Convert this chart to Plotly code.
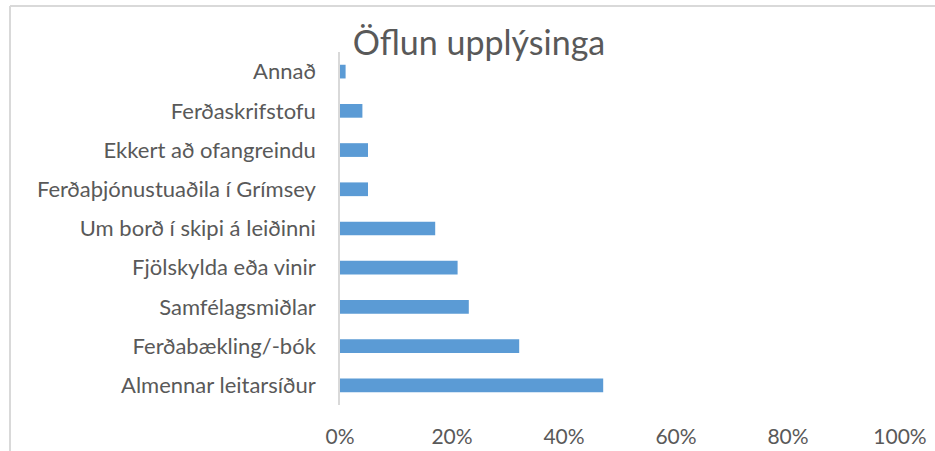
import plotly.graph_objects as go

categories = [
    "Almennar leitarsíður",
    "Ferðabækling/-bók",
    "Samfélagsmiðlar",
    "Fjölskylda eða vinir",
    "Um borð í skipi á leiðinni",
    "Ferðaþjónustuaðila í Grímsey",
    "Ekkert að ofangreindu",
    "Ferðaskrifstofu",
    "Annað",
]
values = [0.47, 0.32, 0.23, 0.21, 0.17, 0.05, 0.05, 0.04, 0.01]
x_ticks = [0, 0.2, 0.4, 0.6, 0.8, 1.0]
title_text = "Öflun upplýsinga"

W, H = 935, 451
ML, MR, MT, MB = 340, 35, 52, 46
PW = W - ML - MR
PH = H - MT - MB

def px_x(p):
    return (p - ML) / PW

def px_y(p):
    return (H - MB - p) / PH

fig = go.Figure(
    go.Bar(
        x=values,
        y=categories,
        orientation="h",
        width=0.35,
        marker=dict(color="#5B9BD5", line=dict(width=0)),
        hoverinfo="x+y",
    )
)

font_family = "Lato, 'Open Sans', sans-serif"

fig.update_layout(
    width=W,
    height=H,
    margin=dict(l=ML, r=MR, t=MT, b=MB, autoexpand=False),
    paper_bgcolor="white",
    plot_bgcolor="white",
    showlegend=False,
    font=dict(family=font_family, color="#595959", size=22),
    title=dict(
        text=title_text,
        x=479 / W,
        xanchor="center",
        xref="container",
        y=1 - 43 / H,
        yanchor="middle",
        yref="container",
        font=dict(size=34, color="#595959", family=font_family),
    ),
    bargap=0.65,
)

fig.update_xaxes(
    range=[0, 1],
    tickvals=x_ticks,
    tickformat=".0%",
    showgrid=False,
    zeroline=False,
    showline=False,
    ticks="",
    ticklabelstandoff=17,
    tickfont=dict(size=21, color="#595959"),
    automargin=False,
    fixedrange=True,
)

fig.update_yaxes(
    categoryorder="array",
    categoryarray=categories,
    showgrid=False,
    zeroline=False,
    showline=True,
    linecolor="#D9D9D9",
    linewidth=1.5,
    ticks="",
    ticklabelstandoff=18,
    tickfont=dict(size=22, color="#595959"),
    automargin=False,
    fixedrange=True,
)

# chart border (only left and top edges are visible in the frame)
border = dict(color="#D9D9D9", width=2)
fig.add_shape(type="line", xref="paper", yref="paper",
              x0=px_x(10), x1=px_x(W + 5), y0=px_y(6), y1=px_y(6), line=border)
fig.add_shape(type="line", xref="paper", yref="paper",
              x0=px_x(10), x1=px_x(10), y0=px_y(6), y1=px_y(H + 5), line=border)

fig.write_html(
    "out.html",
    config={"displayModeBar": False},
    post_script="document.body.style.margin='0';document.body.style.overflow='hidden';",
)
